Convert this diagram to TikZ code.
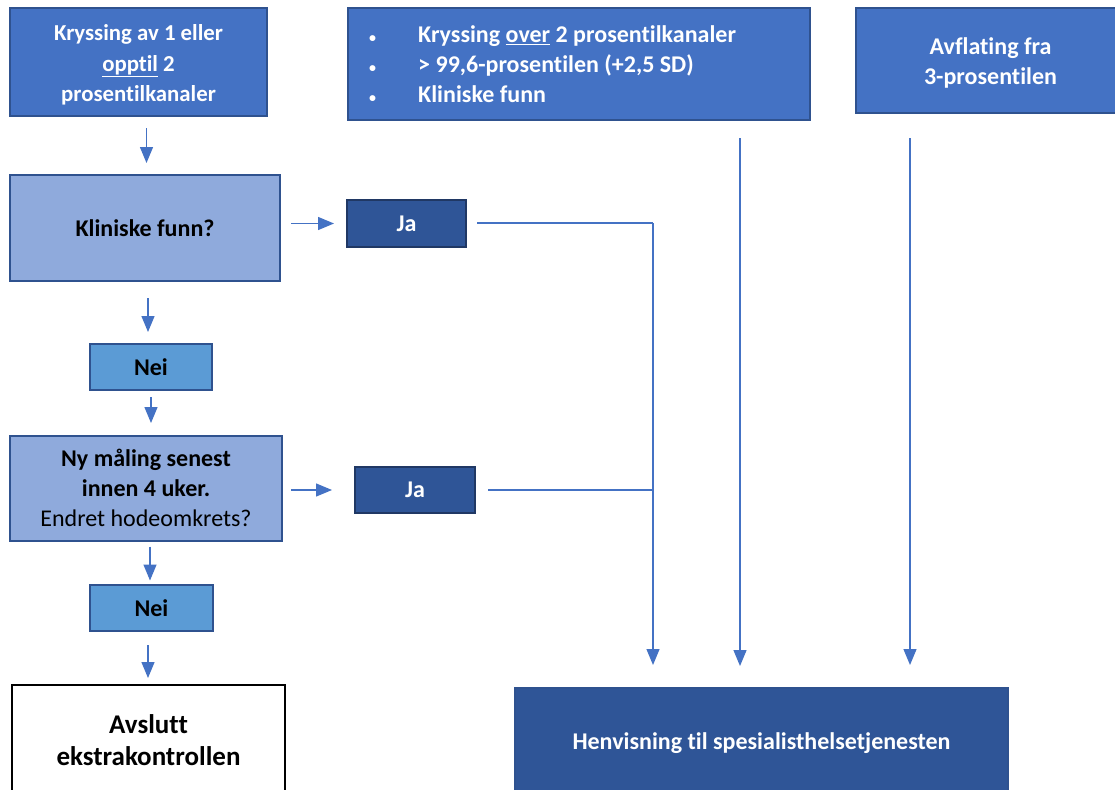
\documentclass[tikz,border=0pt]{standalone}
\usepackage{fontspec}
\setmainfont{Carlito}[Ligatures=NoCommon]
\usetikzlibrary{arrows.meta}
\definecolor{cMid}{HTML}{4472C4}
\definecolor{cEdge}{HTML}{2F528F}
\definecolor{cDark}{HTML}{2F5597}
\definecolor{cDarkEdge}{HTML}{203864}
\definecolor{cLight}{HTML}{8FAADC}
\definecolor{cNei}{HTML}{5B9BD5}
\tikzset{
  box/.style={draw=cEdge, line width=2pt, inner sep=0pt, align=center,
    font=\fontsize{24}{30}\selectfont\bfseries},
  midbox/.style={box, fill=cMid, text=white},
  lightbox/.style={box, fill=cLight, text=black},
  neibox/.style={box, fill=cNei, text=black},
  jabox/.style={box, draw=cDarkEdge, fill=cDark, text=white},
  endbox/.style={box, draw=black, fill=white, text=black},
  boxtext/.style={inner sep=0pt, text=white, align=center, font=\fontsize{24}{30}\selectfont\bfseries},
  flow/.style={draw=cMid, line width=1.3pt, -{Triangle[width=13pt,length=16pt]}},
  link/.style={draw=cMid, line width=1.3pt},
}
\newcommand{\blt}{{\fontsize{14}{14}\selectfont\textbullet}}
\newcommand{\uln}[1]{\underline{#1}}
\begin{document}
\begin{tikzpicture}[x=1pt,y=-1pt]
\clip (0,0) rectangle (1115,789);
\fill[white] (0,0) rectangle (1115,789);
% top row
\node[midbox, minimum width=257, minimum height=108] (a) at (138.5,62) {};
\node[boxtext, font=\fontsize{22.8}{30.5}\selectfont\bfseries] (at) at (138.5,65)
  {Kryssing av 1 eller\\\uln{opptil} 2\\prosentilkanaler};
\node[midbox, minimum width=462, minimum height=112] (b) at (579,64) {};
\node[boxtext, anchor=west] (bt) at (369,67)
  {\begin{tabular}{@{}p{49pt}@{}l@{}}
  \blt & Kryssing \uln{over} 2 prosentilkanaler\\
  \blt & > 99,6-prosentilen (+2,5 SD)\\
  \blt & Kliniske funn
  \end{tabular}};
\node[midbox, minimum width=269, minimum height=105] (c) at (990.5,60.5) {};
\node[boxtext] (ctx) at (990.5,62.5) {Avflating fra\\3-prosentilen};
% left column
\node[lightbox, minimum width=270, minimum height=106] (k) at (145,228) {Kliniske funn?};
\node[jabox, minimum width=119, minimum height=47] (ja1) at (406.5,223.5) {Ja};
\node[neibox, minimum width=122, minimum height=46] (nei1) at (151,367) {Nei};
\node[lightbox, minimum width=272, minimum height=105] (ny) at (146,488)
  {Ny måling senest\\innen 4 uker.\\\mdseries Endret hodeomkrets?};
\node[jabox, minimum width=120, minimum height=46] (ja2) at (415,490) {Ja};
\node[neibox, minimum width=123, minimum height=46] (nei2) at (151.5,608) {Nei};
\node[endbox, minimum width=273, minimum height=110, font=\fontsize{27}{32}\selectfont\bfseries] (end) at (148.5,740)
  {Avslutt\\ekstrakontrollen};
\node[jabox, draw=cEdge, minimum width=493, minimum height=110] (ref) at (761.5,743)
  {Henvisning til spesialisthelsetjenesten};
% junction
\coordinate (j1) at (653,223);
\coordinate (j2) at (653,490);
% arrows
\draw[flow] ([xshift=8,yshift=-11]a.south) -- ++(0,35);
\draw[flow] ([xshift=3,yshift=-16]k.south) -- ++(0,34);
\draw[flow] ([yshift=-6]nei1.south) -- ++(0,26);
\draw[flow] ([xshift=4,yshift=-5]ny.south) -- ++(0,34);
\draw[flow] ([xshift=-3.5,yshift=-13]nei2.south) -- ++(0,33);
\draw[flow] ([xshift=10]k.east |- ja1.west) -- ([xshift=-12]ja1.west);
\draw[flow] ([xshift=8]ny.east |- ja2.west) -- ([xshift=-22]ja2.west);
\draw[link] ([xshift=10]ja1.east |- j1) -- (j1);
\draw[link] ([xshift=12]ja2.east) -- (j2);
\draw[flow] (j1) -- ([yshift=22]ref.north -| j1);
\draw[flow] ([yshift=-17]b.south -| 740,0) -- ([yshift=21]ref.north -| 740,0);
\draw[flow] ([yshift=-24]c.south -| 910,0) -- ([yshift=22]ref.north -| 910,0);
\end{tikzpicture}
\end{document}
